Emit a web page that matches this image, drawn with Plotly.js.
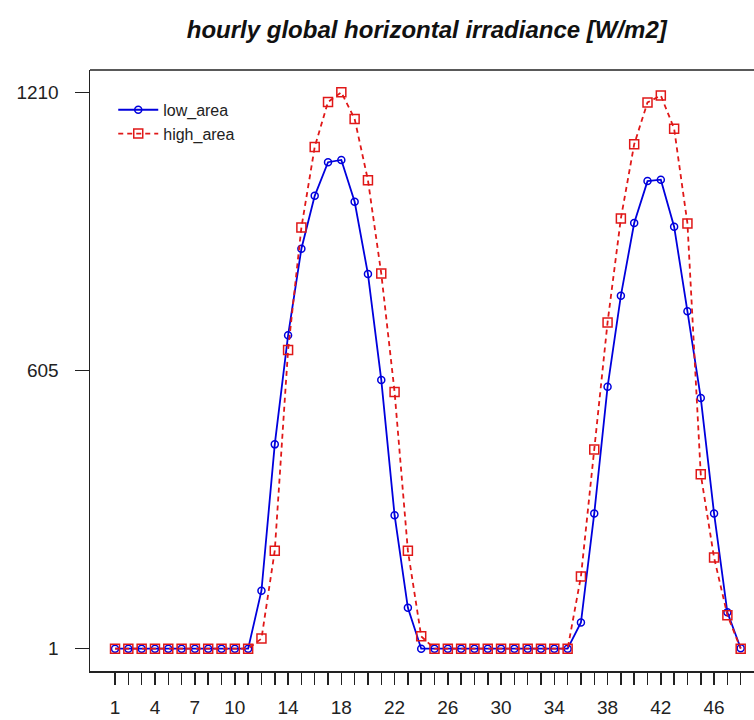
<!DOCTYPE html>
<html>
<head>
<meta charset="utf-8">
<script src="https://cdn.plot.ly/plotly-3.0.1.min.js"></script>
<style>html,body{margin:0;padding:0;background:#fff;}#chart{width:754px;height:720px;}</style>
</head>
<body>
<div id="chart"></div>
<script>
const hours = [1,2,3,4,5,6,7,8,9,10,11,12,13,14,15,16,17,18,19,20,21,22,23,24,25,26,27,28,29,30,31,32,33,34,35,36,37,38,39,40,41,42,43,44,45,46,47,48];
const lowArea = [1,1,1,1,1,1,1,1,1,1,1,127,445,682,870,985,1058,1063,972,815,585,291,90,1,1,1,1,1,1,1,1,1,1,1,1,58,295,570,768,926,1017,1020,918,734,546,295,80,2];
const highArea = [1,1,1,1,1,1,1,1,1,1,1,23,214,650,916,1091,1189,1210,1152,1019,816,559,214,28,1,1,1,1,1,1,1,1,1,1,1,158,434,710,936,1097,1188,1203,1131,925,380,199,74,1];
const xLabelShown = [1,4,7,10,14,18,22,26,30,34,38,42,46];
const yTicks = [1,605,1210];
const titleText = "hourly global horizontal irradiance [W/m2]";

const FONT = "Liberation Sans, Arial, sans-serif";
const traces = [
  {x: hours, y: lowArea, name: "low_area", type: "scatter", mode: "lines+markers",
   line: {color: "#0000dd", width: 1.8},
   marker: {symbol: "circle-open", size: 7, color: "#0000dd", line: {width: 1.5, color: "#0000dd"}}},
  {x: hours, y: highArea, name: "high_area", type: "scatter", mode: "lines+markers",
   line: {color: "#e01818", width: 1.8, dash: "5px,4px"},
   marker: {symbol: "square-open", size: 9, color: "#e01818", line: {width: 1.5, color: "#e01818"}}}
];
const layout = {
  width: 754, height: 720,
  margin: {l: 90, r: 0, t: 70, b: 49, pad: 0},
  paper_bgcolor: "#fff", plot_bgcolor: "#fff",
  font: {family: FONT, color: "#222"},
  title: {text: "<b><i>" + titleText + "</i></b>", font: {family: FONT, size: 24, color: "#111"},
          x: 0.566, xref: "container", xanchor: "center", y: 1 - 30/720, yref: "container", yanchor: "middle"},
  showlegend: true,
  legend: {x: 0.035, y: 0.962, xanchor: "left", yanchor: "top", bgcolor: "rgba(0,0,0,0)",
           itemwidth: 40,
           font: {family: FONT, size: 16, color: "#222"}, tracegroupgap: 0},
  xaxis: {range: [-0.88, 49.0], showgrid: false, zeroline: false,
          showline: true, linecolor: "#222", linewidth: 1.5,
          tickmode: "array", tickvals: hours,
          ticktext: hours.map(h => xLabelShown.includes(h) ? String(h) : ""),
          ticks: "outside", ticklen: 12, tickwidth: 1.5, tickcolor: "#222",
          ticklabelstandoff: 7,
          tickfont: {family: FONT, size: 19, color: "#222"}},
  yaxis: {range: [-47.4, 1258.4], showgrid: false, zeroline: false,
          showline: true, linecolor: "#222", linewidth: 1.5,
          tickmode: "array", tickvals: yTicks, ticktext: yTicks.map(String),
          ticks: "outside", ticklen: 14, tickwidth: 1.5, tickcolor: "#222",
          ticklabelstandoff: 12,
          tickfont: {family: FONT, size: 19, color: "#222"}},
  shapes: [{type: "line", xref: "paper", yref: "paper", x0: 0, x1: 1, y0: 1, y1: 1,
            line: {color: "#222", width: 1.5}}]
};
Plotly.newPlot("chart", traces, layout, {displayModeBar: false, staticPlot: true});
</script>
</body>
</html>
